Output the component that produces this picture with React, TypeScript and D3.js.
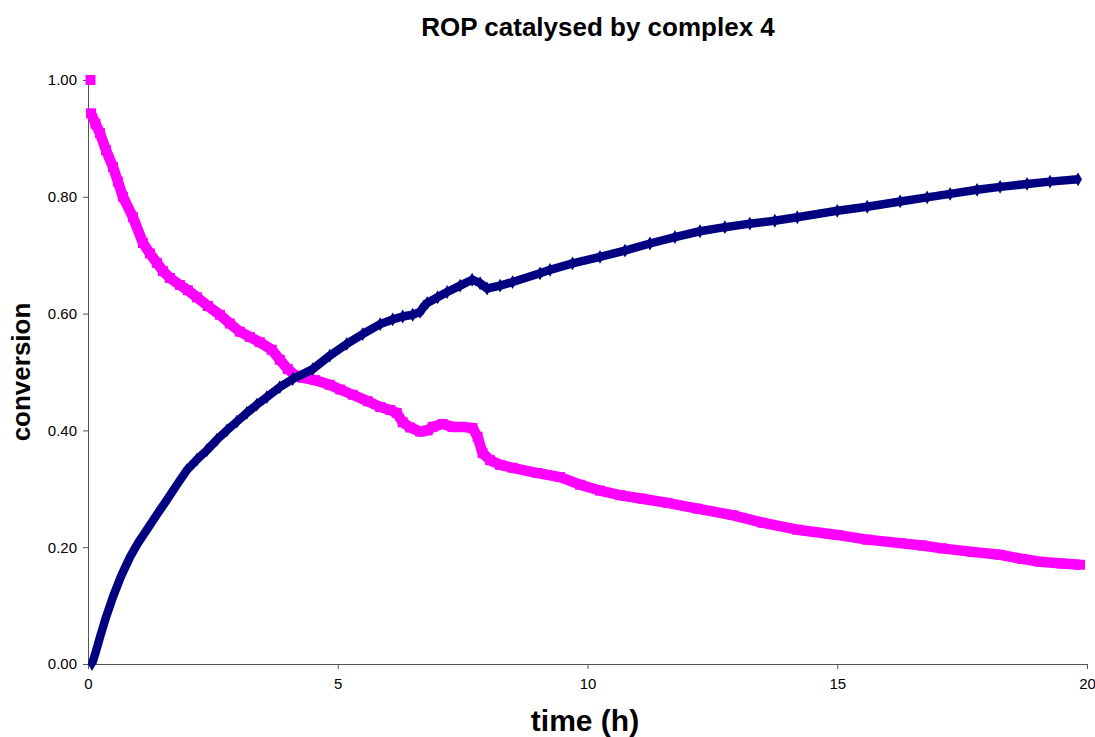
import React, { useEffect, useRef } from 'react';
import * as d3 from 'd3';

// conversion of the monomer (navy diamonds)
const convTime = [0.08, 0.16, 0.24, 0.36, 0.5, 0.66, 0.84, 1.0, 1.18, 1.38, 1.58, 1.78, 1.98, 2.18, 2.38, 2.58, 2.78, 2.98, 3.18, 3.38, 3.58, 3.84, 4.1, 4.5, 4.84, 5.18, 5.5, 5.85, 6.1, 6.3, 6.5, 6.65, 6.72, 6.79, 7.0, 7.19, 7.45, 7.69, 7.85, 7.99, 8.25, 8.5, 9.05, 9.25, 9.7, 10.25, 10.75, 11.25, 11.75, 12.25, 12.75, 13.25, 13.75, 14.2, 15.0, 15.6, 16.26, 16.8, 17.26, 17.8, 18.26, 18.8, 19.26, 19.82];
const convValue = [0.0, 0.022, 0.046, 0.08, 0.115, 0.15, 0.183, 0.207, 0.23, 0.256, 0.281, 0.307, 0.332, 0.35, 0.366, 0.384, 0.4, 0.415, 0.43, 0.444, 0.457, 0.474, 0.488, 0.505, 0.528, 0.548, 0.565, 0.582, 0.59, 0.595, 0.598, 0.603, 0.612, 0.618, 0.628, 0.637, 0.648, 0.658, 0.652, 0.643, 0.648, 0.654, 0.669, 0.675, 0.686, 0.697, 0.708, 0.72, 0.731, 0.741, 0.748, 0.754, 0.759, 0.765, 0.776, 0.783, 0.792, 0.799, 0.805, 0.812, 0.817, 0.822, 0.826, 0.83];

// remaining monomer (magenta squares)
const remStart = [0.05, 1.0];
const remTime = [0.06, 0.15, 0.24, 0.36, 0.5, 0.6, 0.7, 0.9, 1.1, 1.24, 1.38, 1.5, 1.64, 1.84, 2.0, 2.18, 2.4, 2.64, 2.84, 3.04, 3.24, 3.44, 3.68, 3.84, 4.0, 4.15, 4.3, 4.55, 4.84, 5.05, 5.3, 5.6, 5.85, 6.05, 6.18, 6.3, 6.45, 6.65, 6.8, 6.9, 7.1, 7.3, 7.5, 7.7, 7.8, 7.9, 8.05, 8.25, 8.5, 9.0, 9.45, 9.85, 10.25, 10.65, 11.1, 11.6, 12.2, 12.9, 13.5, 14.2, 15.0, 15.6, 16.26, 16.7, 17.1, 17.7, 18.26, 18.7, 19.06, 19.5, 19.86];
const remValue = [0.943, 0.925, 0.909, 0.88, 0.851, 0.826, 0.8, 0.765, 0.721, 0.703, 0.687, 0.673, 0.661, 0.649, 0.64, 0.628, 0.613, 0.598, 0.583, 0.569, 0.56, 0.551, 0.538, 0.521, 0.505, 0.494, 0.49, 0.486, 0.478, 0.47, 0.461, 0.45, 0.44, 0.435, 0.43, 0.414, 0.405, 0.398, 0.4, 0.406, 0.411, 0.406, 0.406, 0.404, 0.389, 0.361, 0.349, 0.341, 0.336, 0.327, 0.32, 0.307, 0.297, 0.289, 0.283, 0.276, 0.266, 0.255, 0.242, 0.23, 0.221, 0.213, 0.207, 0.203, 0.198, 0.192, 0.187, 0.18, 0.175, 0.172, 0.17];

const xTicks = [0, 5, 10, 15, 20];
const yTicks = [0, 0.2, 0.4, 0.6, 0.8, 1.0];

const W = 1095, H = 737;
const left = 88, right = 1087, top = 80, bottom = 664;
const font = 'Liberation Sans, Arial, sans-serif';

export default function App() {
  const xAxisRef = useRef<SVGGElement>(null);
  const yAxisRef = useRef<SVGGElement>(null);

  const x = d3.scaleLinear().domain([0, 20]).range([left, right]);
  const y = d3.scaleLinear().domain([0, 1]).range([bottom, top]);

  useEffect(() => {
    const gx = d3.select(xAxisRef.current!);
    gx.call(d3.axisBottom(x).tickValues(xTicks).tickSize(5).tickSizeOuter(0).tickFormat(d3.format('d')) as any);
    gx.selectAll('text').attr('font-family', font).attr('font-size', 15).attr('fill', '#000').attr('dy', '1.1em');
    gx.selectAll('line, path').attr('stroke', '#555');

    const gy = d3.select(yAxisRef.current!);
    gy.call(d3.axisLeft(y).tickValues(yTicks).tickSize(5).tickSizeOuter(0).tickFormat(d3.format('.2f')) as any);
    gy.selectAll('text').attr('font-family', font).attr('font-size', 15).attr('fill', '#000').attr('dx', '-3');
    gy.selectAll('line, path').attr('stroke', '#555');
  }, []);

  const conv = convTime.map((t, i) => [t, convValue[i]] as [number, number]);
  const rem = remTime.map((t, i) => [t, remValue[i]] as [number, number]);

  const line = d3.line<[number, number]>().x(d => x(d[0])).y(d => y(d[1]));
  const diamond = d3.symbol().type(d3.symbolDiamond).size(55)();

  return (
    <svg width={W} height={H} style={{ position: 'absolute', left: 0, top: 0, background: '#fff' }}>
      <text x={598} y={36} textAnchor="middle" fontFamily={font} fontWeight="bold" fontSize={26}>
        ROP catalysed by complex 4
      </text>

      <g ref={xAxisRef} transform={`translate(0,${bottom})`} />
      <g ref={yAxisRef} transform={`translate(${left},0)`} />

      {/* remaining monomer */}
      <path d={line(rem) || ''} fill="none" stroke="#FF00FF" strokeWidth={10.5} strokeLinejoin="round" />
      {rem.map((d, i) => (
        <rect key={'r' + i} x={x(d[0]) - 5} y={y(d[1]) - 5} width={10} height={10} fill="#FF00FF" />
      ))}
      <rect x={x(remStart[0]) - 5} y={y(remStart[1]) - 5} width={10} height={10} fill="#FF00FF" />

      {/* conversion */}
      <path d={line(conv) || ''} fill="none" stroke="#000080" strokeWidth={8.5} strokeLinejoin="round" />
      {conv.map((d, i) => (
        <path key={'c' + i} d={diamond || ''} transform={`translate(${x(d[0])},${y(d[1])})`} fill="#000080" />
      ))}

      <text transform={`translate(30,${(top + bottom) / 2}) rotate(-90)`} textAnchor="middle" fontFamily={font} fontWeight="bold" fontSize={26}>
        conversion
      </text>
      <text x={585} y={731} textAnchor="middle" fontFamily={font} fontWeight="bold" fontSize={30}>
        time (h)
      </text>
    </svg>
  );
}
